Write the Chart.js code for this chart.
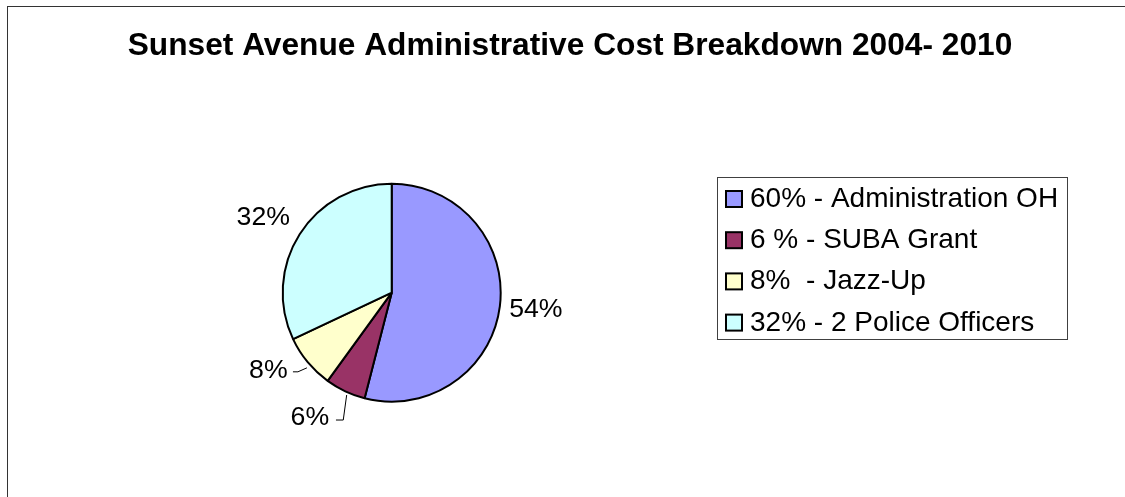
<!DOCTYPE html>
<html>
<head>
<meta charset="utf-8">
<script src="https://cdn.jsdelivr.net/npm/chart.js@4/dist/chart.umd.min.js"></script>
<style>
  html, body { margin: 0; padding: 0; background: #fff; }
  #wrap { width: 1125px; height: 497px; position: relative; }
</style>
</head>
<body>
<div id="wrap"><canvas id="costPie"></canvas></div>
<script>
const title = 'Sunset Avenue Administrative Cost Breakdown 2004- 2010'
const sliceLabels = ['54%', '6%', '8%', '32%']
const legendLabels = ['60% - Administration OH', '6 % - SUBA Grant', '8%  - Jazz-Up', '32% - 2 Police Officers']
const shares = [54, 6, 8, 32]

// Colors (Excel 2003 style palette)
const periwinkle = '#9999FF'
const plum = '#993366'
const ivory = '#FFFFCC'
const paleCyan = '#CCFFFF'
const sliceColors = [periwinkle, plum, ivory, paleCyan]

const font = "'Liberation Sans', Arial, sans-serif"

// label nudges from the slice's outer edge at its mid angle
const labelNudge = [[35, 3], [-35, 25], [-38.6, 7.7], [-35.5, -16]]
// leader lines for the small slices, same reference point
const leaders = [null, [[1.8, 2.8], [-1.6, 27.8], [-8.9, 27.8]], [[0, 5], [-9, 9], [-14, 9]], null]

const decorations = {
    id: 'decorations',
    beforeDraw(chart) {
        const ctx = chart.ctx
        ctx.save()
        ctx.fillStyle = '#fff'
        ctx.fillRect(0, 0, chart.width, chart.height)
        ctx.strokeStyle = '#333'
        ctx.lineWidth = 1
        ctx.strokeRect(7.5, 6.5, 1140, 510)
        ctx.fillStyle = '#000'
        ctx.font = 'bold 31.7px ' + font
        ctx.textAlign = 'center'
        ctx.textBaseline = 'alphabetic'
        ctx.fillText(title, 570, 55)
        ctx.restore()
    },
    afterDraw(chart) {
        const ctx = chart.ctx
        const arcs = chart.getDatasetMeta(0).data
        ctx.save()
        ctx.fillStyle = '#000'
        ctx.font = '26.7px ' + font
        ctx.textAlign = 'center'
        ctx.textBaseline = 'middle'
        arcs.forEach((arc, i) => {
            const { x, y, startAngle, endAngle, outerRadius } = arc.getProps(['x', 'y', 'startAngle', 'endAngle', 'outerRadius'], true)
            const mid = (startAngle + endAngle) / 2
            const ex = x + (outerRadius + 1) * Math.cos(mid)
            const ey = y + (outerRadius + 1) * Math.sin(mid)
            ctx.fillText(sliceLabels[i], ex + labelNudge[i][0], ey + labelNudge[i][1])
            if (leaders[i]) {
                ctx.beginPath()
                ctx.strokeStyle = '#000'
                ctx.lineWidth = 1
                leaders[i].forEach(([dx, dy], k) => {
                    if (k === 0) ctx.moveTo(ex + dx, ey + dy)
                    else ctx.lineTo(ex + dx, ey + dy)
                })
                ctx.stroke()
            }
        })

        // legend box
        ctx.strokeStyle = '#404040'
        ctx.lineWidth = 1
        ctx.strokeRect(717.5, 177.5, 350, 162)
        ctx.font = '28px ' + font
        ctx.textAlign = 'left'
        ctx.textBaseline = 'alphabetic'
        legendLabels.forEach((txt, i) => {
            const base = 207 + i * 41.2
            ctx.fillStyle = sliceColors[i]
            ctx.fillRect(726, base - 16, 16, 16)
            ctx.strokeStyle = '#000'
            ctx.lineWidth = 2
            ctx.strokeRect(726, base - 16, 16, 16)
            ctx.fillStyle = '#000'
            ctx.fillText(txt, 750, base)
        })
        ctx.restore()
    }
}

new Chart(document.getElementById('costPie'), {
    type: 'pie',
    data: {
        labels: legendLabels,
        datasets: [
            {
                data: shares,
                backgroundColor: sliceColors,
                borderColor: '#000',
                borderWidth: 2,
                radius: 109,
            },
        ],
    },
    options: {
        responsive: true,
        maintainAspectRatio: false,
        animation: false,
        layout: {
            padding: { left: 271.7, right: 613.3, top: 172.7, bottom: 84.3 },
        },
        plugins: {
            legend: { display: false },
            tooltip: { enabled: false },
        },
    },
    plugins: [decorations],
})
</script>
</body>
</html>
